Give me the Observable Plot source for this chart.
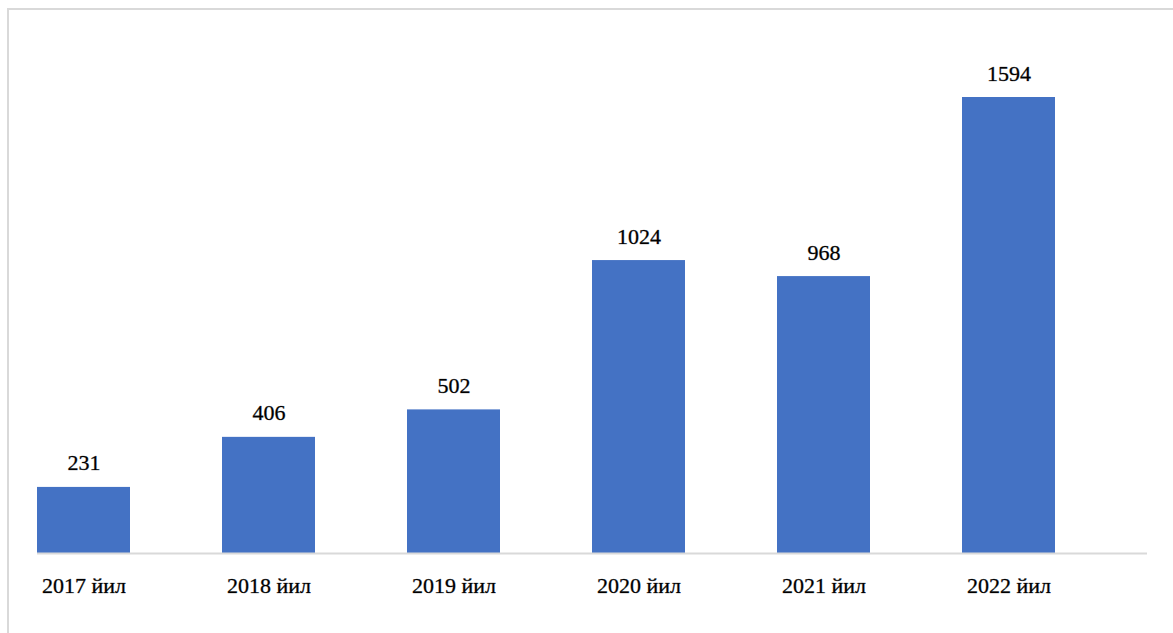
<!DOCTYPE html>
<html>
<head>
<meta charset="utf-8">
<script src="https://cdn.jsdelivr.net/npm/d3@7"></script>
<script src="https://cdn.jsdelivr.net/npm/@observablehq/plot@0.6"></script>
<style>
  html, body { margin: 0; padding: 0; background: #fff; }
  #wrap { position: relative; width: 1173px; height: 633px; overflow: hidden; }
  #border { position: absolute; left: 7px; top: 8px; width: 1200px; height: 700px;
            border-left: 2px solid #d9d9d9; border-top: 2px solid #d9d9d9; }
  #chart { position: absolute; left: 0; top: 0; }
</style>
</head>
<body>
<div id="wrap"><div id="border"></div><div id="chart"></div></div>
<script>
const years = ["2017 йил", "2018 йил", "2019 йил", "2020 йил", "2021 йил", "2022 йил"];
const values = [231, 406, 502, 1024, 968, 1594];

const data = years.map((y, i) => ({year: y, value: values[i]}));
const font = "'Liberation Serif', 'Times New Roman', serif";

const chart = Plot.plot({
  width: 1173,
  height: 633,
  marginLeft: 37,
  marginRight: 26,
  marginTop: 97,
  marginBottom: 80,
  style: {fontFamily: font, background: "transparent"},
  x: {domain: years, paddingInner: 0.5, paddingOuter: 0.25, align: 0, axis: null},
  y: {domain: [0, 1594], axis: null},
  marks: [
    Plot.barY(data, {x: "year", y: "value", fill: "#4472C4"}),
    Plot.ruleY([0], {stroke: "#d9d9d9", strokeWidth: 2}),
    Plot.text(data, {x: "year", y: "value", text: d => String(d.value), dy: -24,
                     fontSize: 22, fill: "#000", stroke: "#000", strokeWidth: 0.6, strokeOpacity: 0.5, fontFamily: font}),
    Plot.text(data, {x: "year", y: 0, text: "year", dy: 32,
                     fontSize: 22, fill: "#000", stroke: "#000", strokeWidth: 0.6, strokeOpacity: 0.5, fontFamily: font})
  ]
});
document.getElementById("chart").appendChild(chart);
</script>
</body>
</html>
